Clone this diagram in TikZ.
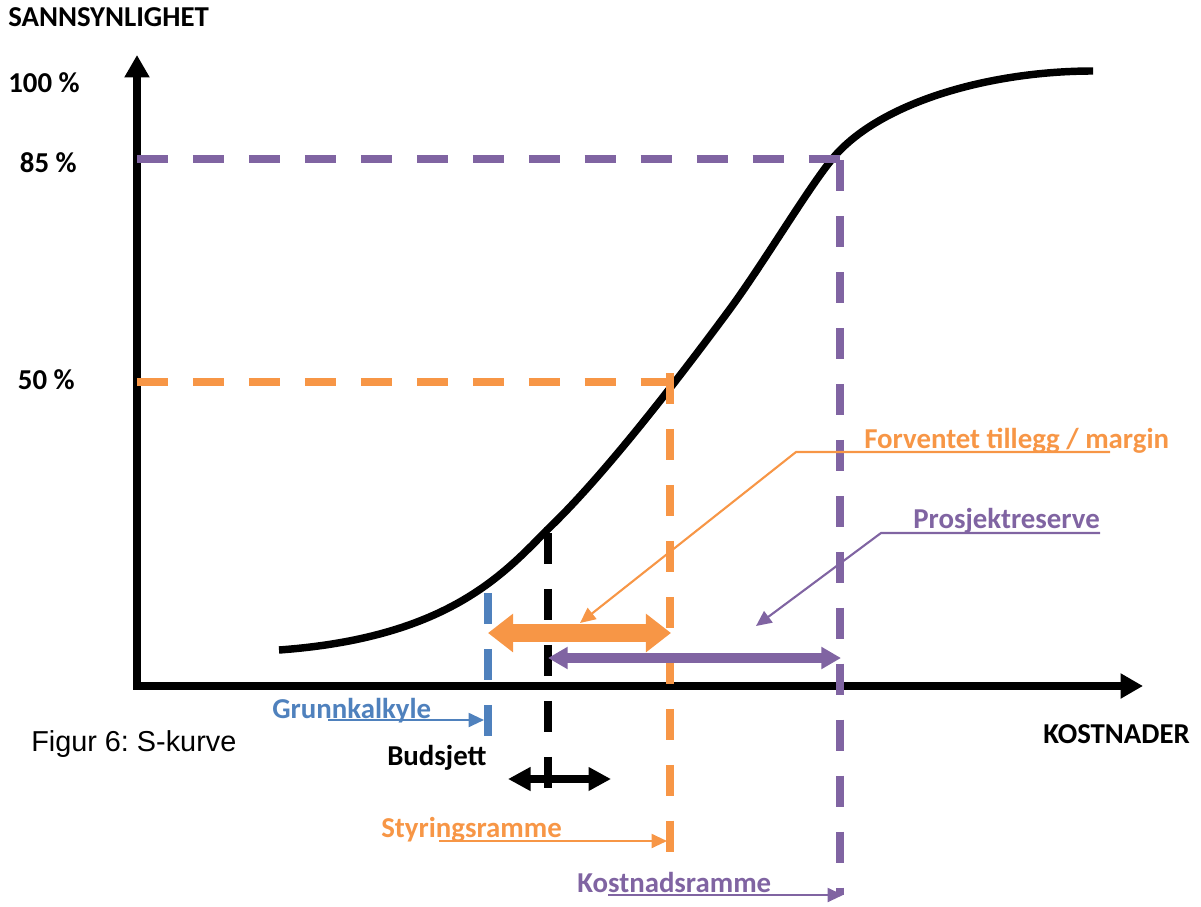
\documentclass[tikz,border=0pt]{standalone}
\usepackage{fontspec}
\setmainfont{Carlito}
\newfontfamily\capfont{Liberation Sans}
\usetikzlibrary{arrows.meta}

\definecolor{oorange}{HTML}{F79646}
\definecolor{opurple}{HTML}{8064A2}
\definecolor{oblue}{HTML}{4F81BD}
\frenchspacing

\begin{document}
\begin{tikzpicture}[
        x=0.025cm, y=-0.025cm,
        axis/.style = {line width=5pt, -{Triangle[length=16pt,width=17pt]}},
        guide/.style = {line width=5.5pt, dash pattern=on 22pt off 17.8pt},% dashed help lines
        span/.style n args = {3}{line width=#1, {Triangle[length=#2,width=#3]}-{Triangle[length=#2,width=#3]}},
        tag/.style = {font=\fontsize{20.5}{24}\selectfont\bfseries, inner sep=0pt},
        note/.style = {line width=1.5pt, -{Triangle[length=11pt,width=10pt]}},
    ]
    \useasboundingbox (0,0) rectangle (1201,906);
    % axes
    \coordinate (o) at (137,686);
    \coordinate (ytop) at (137,55);
    \coordinate (xend) at (1143,686);
    \draw[axis] (137,689) -- (ytop);
    \draw[axis] (133,686) -- (xend);
    \node[tag, anchor=base west] (ylab) at (8,27) {SANNSYNLIGHET};
    \node[tag, anchor=base west] (xlab) at (1043,743) {KOSTNADER};
    \node[tag, anchor=base east] (p100) at (80,93) {100 \%};
    \node[tag, anchor=base east] (p85) at (77,172) {85 \%};
    \node[tag, anchor=base east] (p50) at (75,389) {50 \%};
    \node[font=\capfont\fontsize{20.5}{24}\selectfont, inner sep=0pt, anchor=base west] (cap) at (31,751) {Figur 6: S-kurve};
    % S-curve
    \coordinate (s0) at (279,650);
    \coordinate (s1) at (547,530);
    \coordinate (s2) at (727,313);
    \coordinate (s3) at (833,158);
    \coordinate (s4) at (1093,71);
    \draw[line width=5.3pt] (s0) .. controls (445,638) and (502,576) .. (s1)
        .. controls (607,473) and (687,367) .. (s2)
        .. controls (762,266) and (808,188) .. (s3)
        .. controls (880,102) and (990,71) .. (s4);
    % help lines
    \draw[guide, opurple] (137,159) -- (840,159);
    \draw[guide, opurple] (840,160) -- (840,895);
    \draw[guide, oorange] (137,382) -- (672,382);
    \draw[guide, oorange] (670,373) -- (670,853);
    \draw[guide, oblue] (488,593) -- (488,738);
    \draw[guide, black] (548,533) -- (548,789);
    % spans
    \coordinate (mL) at (488,633); \coordinate (mR) at (671,633);
    \coordinate (rL) at (548,658); \coordinate (rR) at (841,658);
    \coordinate (bL) at (508,779); \coordinate (bR) at (611,779);
    \draw[span={13.5pt}{17.8pt}{26.3pt}, oorange] (mL) -- (mR);
    \draw[span={7pt}{14pt}{15pt}, opurple] (rL) -- (rR);
    \draw[span={5.5pt}{16pt}{16pt}, black] (bL) -- (bR);
    % callouts
    \node[tag, oorange, anchor=base west] (fwd) at (864,448) {Forventet tillegg / margin};
    \coordinate (fwdR) at (1110,452); \coordinate (fwdK) at (796,452); \coordinate (fwdT) at (580,623);
    \draw[note, oorange] (fwdR) -- (fwdK) -- (fwdT);
    \node[tag, opurple, anchor=base west] (res) at (913,528) {Prosjektreserve};
    \coordinate (resR) at (1100,533); \coordinate (resK) at (881,533); \coordinate (resT) at (756,626);
    \draw[note, opurple] (resR) -- (resK) -- (resT);
    \node[tag, oblue, anchor=base west] (gk) at (272,718) {Grunnkalkyle};
    \coordinate (gkS) at (328,720); \coordinate (gkT) at (484,720);
    \draw[note, oblue] (gkS) -- (gkT);
    \node[tag, anchor=base west] (bud) at (387,765) {Budsjett};
    \node[tag, oorange, anchor=base west] (sty) at (381,837) {Styringsramme};
    \coordinate (styS) at (439,841); \coordinate (styT) at (667,841);
    \draw[note, oorange] (styS) -- (styT);
    \node[tag, opurple, anchor=base west] (kost) at (577,892) {Kostnadsramme};
    \coordinate (kostS) at (608,895); \coordinate (kostT) at (843,895);
    \draw[note, opurple] (kostS) -- (kostT);
\end{tikzpicture}
\end{document}
